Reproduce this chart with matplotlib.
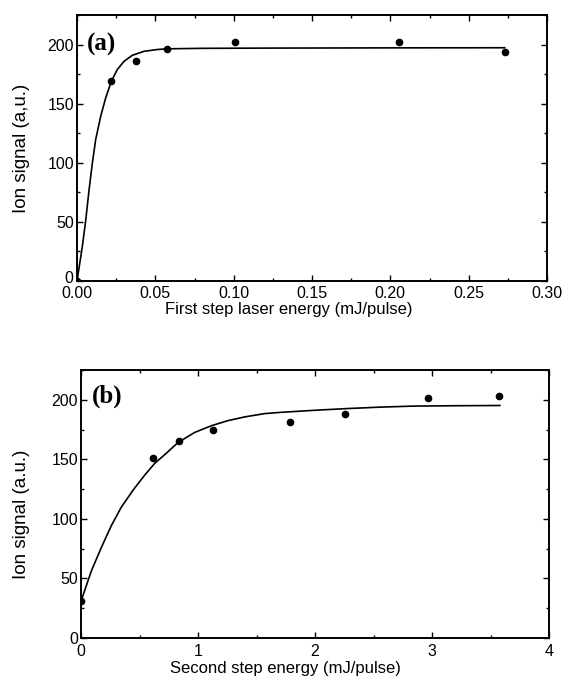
import matplotlib
matplotlib.use("Agg")
import matplotlib.pyplot as plt
import matplotlib.transforms as mtransforms
from matplotlib.ticker import MultipleLocator

plt.rcParams['font.family'] = ['Liberation Sans', 'DejaVu Sans']

# Panel (a) data
a_x = [0.0, 0.0215, 0.0375, 0.0573, 0.101, 0.2055, 0.273]
a_y = [0, 169, 186, 196, 202, 202.5, 194]
# Panel (a) fit curve
a_fit_x = [0.0, 0.0034, 0.0056, 0.0077, 0.0098, 0.0119, 0.0151, 0.0183, 0.0219,
           0.0257, 0.030, 0.0353, 0.0428, 0.0513, 0.0576, 0.08, 0.12, 0.2, 0.273]
a_fit_y = [0, 29.1, 51.7, 77.1, 99.7, 119.5, 139.2, 154.8, 168.9,
           178.8, 185.8, 190.9, 194.3, 195.8, 196.4, 196.8, 197, 197.2, 197.3]

# Panel (b) data
b_x = [0.0, 0.618, 0.84, 1.13, 1.786, 2.26, 2.97, 3.57]
b_y = [30.8, 150.8, 165, 175, 181, 188, 201.7, 203]
# Panel (b) fit curve
b_fit_x = [0.0, 0.088, 0.174, 0.259, 0.345, 0.444, 0.544, 0.630, 0.729, 0.829,
           0.972, 1.114, 1.256, 1.399, 1.570, 1.70, 2.0, 2.27, 2.55, 2.84, 3.2, 3.58]
b_fit_y = [30.8, 56.2, 76, 94.3, 109.9, 124, 136.7, 146.6, 155.1, 164.1,
           172.6, 178.2, 182.5, 185.6, 188.4, 189.4, 191.2, 192.6, 193.8, 194.7, 195.0, 195.2]

W, H = 565, 689
fig = plt.figure(figsize=(W / 100, H / 100), dpi=100)

def make_axes(l, t, r, b):
    return fig.add_axes([l / W, 1 - b / H, (r - l) / W, (b - t) / H])

ax1 = make_axes(77, 15, 547, 281)
ax2 = make_axes(81, 370, 549, 638)

def style(ax):
    for s in ax.spines.values():
        s.set_linewidth(1.4)
    ax.tick_params(which='both', direction='in', top=True, right=True,
                   labelsize=11.5, width=1.0)
    ax.tick_params(which='major', length=4)
    ax.tick_params(which='minor', length=2.5)
    ax.tick_params(axis='y', pad=2)

ax1.plot(a_fit_x, a_fit_y, color='black', lw=1.2)
ax1.plot(a_x, a_y, 'o', color='black', ms=4.5)
ax1.set_xlim(0, 0.30)
ax1.set_ylim(0, 225)
ax1.xaxis.set_major_locator(MultipleLocator(0.05))
ax1.xaxis.set_minor_locator(MultipleLocator(0.025))
ax1.yaxis.set_major_locator(MultipleLocator(50))
ax1.yaxis.set_minor_locator(MultipleLocator(25))
ax1.xaxis.set_major_formatter(plt.FuncFormatter(lambda v, p: f"{v:.2f}"))
style(ax1)
ax1.tick_params(axis='x', pad=3.5)
ax1.set_xlabel('First step laser energy (mJ/pulse)', fontsize=12)
ax1.xaxis.set_label_coords(0.451, -0.08, transform=ax1.transAxes)
ax1.set_ylabel('Ion signal (a,u.)', fontsize=13.5)
ax1.yaxis.set_label_coords(-0.10, 0.5, transform=ax1.transAxes)
ax1.text(0.0062, 200, '(a)', fontsize=18, fontweight='bold', family='Liberation Serif',
         va='center', ha='left')

# nudge the y "0" label of panel (a) slightly up so it does not collide with "0.00"
fig.canvas.draw()
shift = mtransforms.ScaledTranslation(-1 / 72, 3 / 72, fig.dpi_scale_trans)
for lbl in ax1.get_yticklabels():
    if lbl.get_text() == '0':
        lbl.set_transform(lbl.get_transform() + shift)

ax2.plot(b_fit_x, b_fit_y, color='black', lw=1.2)
ax2.plot(b_x, b_y, 'o', color='black', ms=4.5)
ax2.set_xlim(0, 4)
ax2.set_ylim(0, 225)
ax2.xaxis.set_major_locator(MultipleLocator(1))
ax2.xaxis.set_minor_locator(MultipleLocator(0.5))
ax2.yaxis.set_major_locator(MultipleLocator(50))
ax2.yaxis.set_minor_locator(MultipleLocator(25))
style(ax2)
ax2.tick_params(axis='x', pad=4)
ax2.set_xlabel('Second step energy (mJ/pulse)', fontsize=12)
ax2.xaxis.set_label_coords(0.436, -0.085, transform=ax2.transAxes)
ax2.set_ylabel('Ion signal (a.u.)', fontsize=13.5)
ax2.yaxis.set_label_coords(-0.108, 0.46, transform=ax2.transAxes)
ax2.text(0.094, 203, '(b)', fontsize=18, fontweight='bold', family='Liberation Serif',
         va='center', ha='left')

fig.savefig('out.png', dpi=100)
